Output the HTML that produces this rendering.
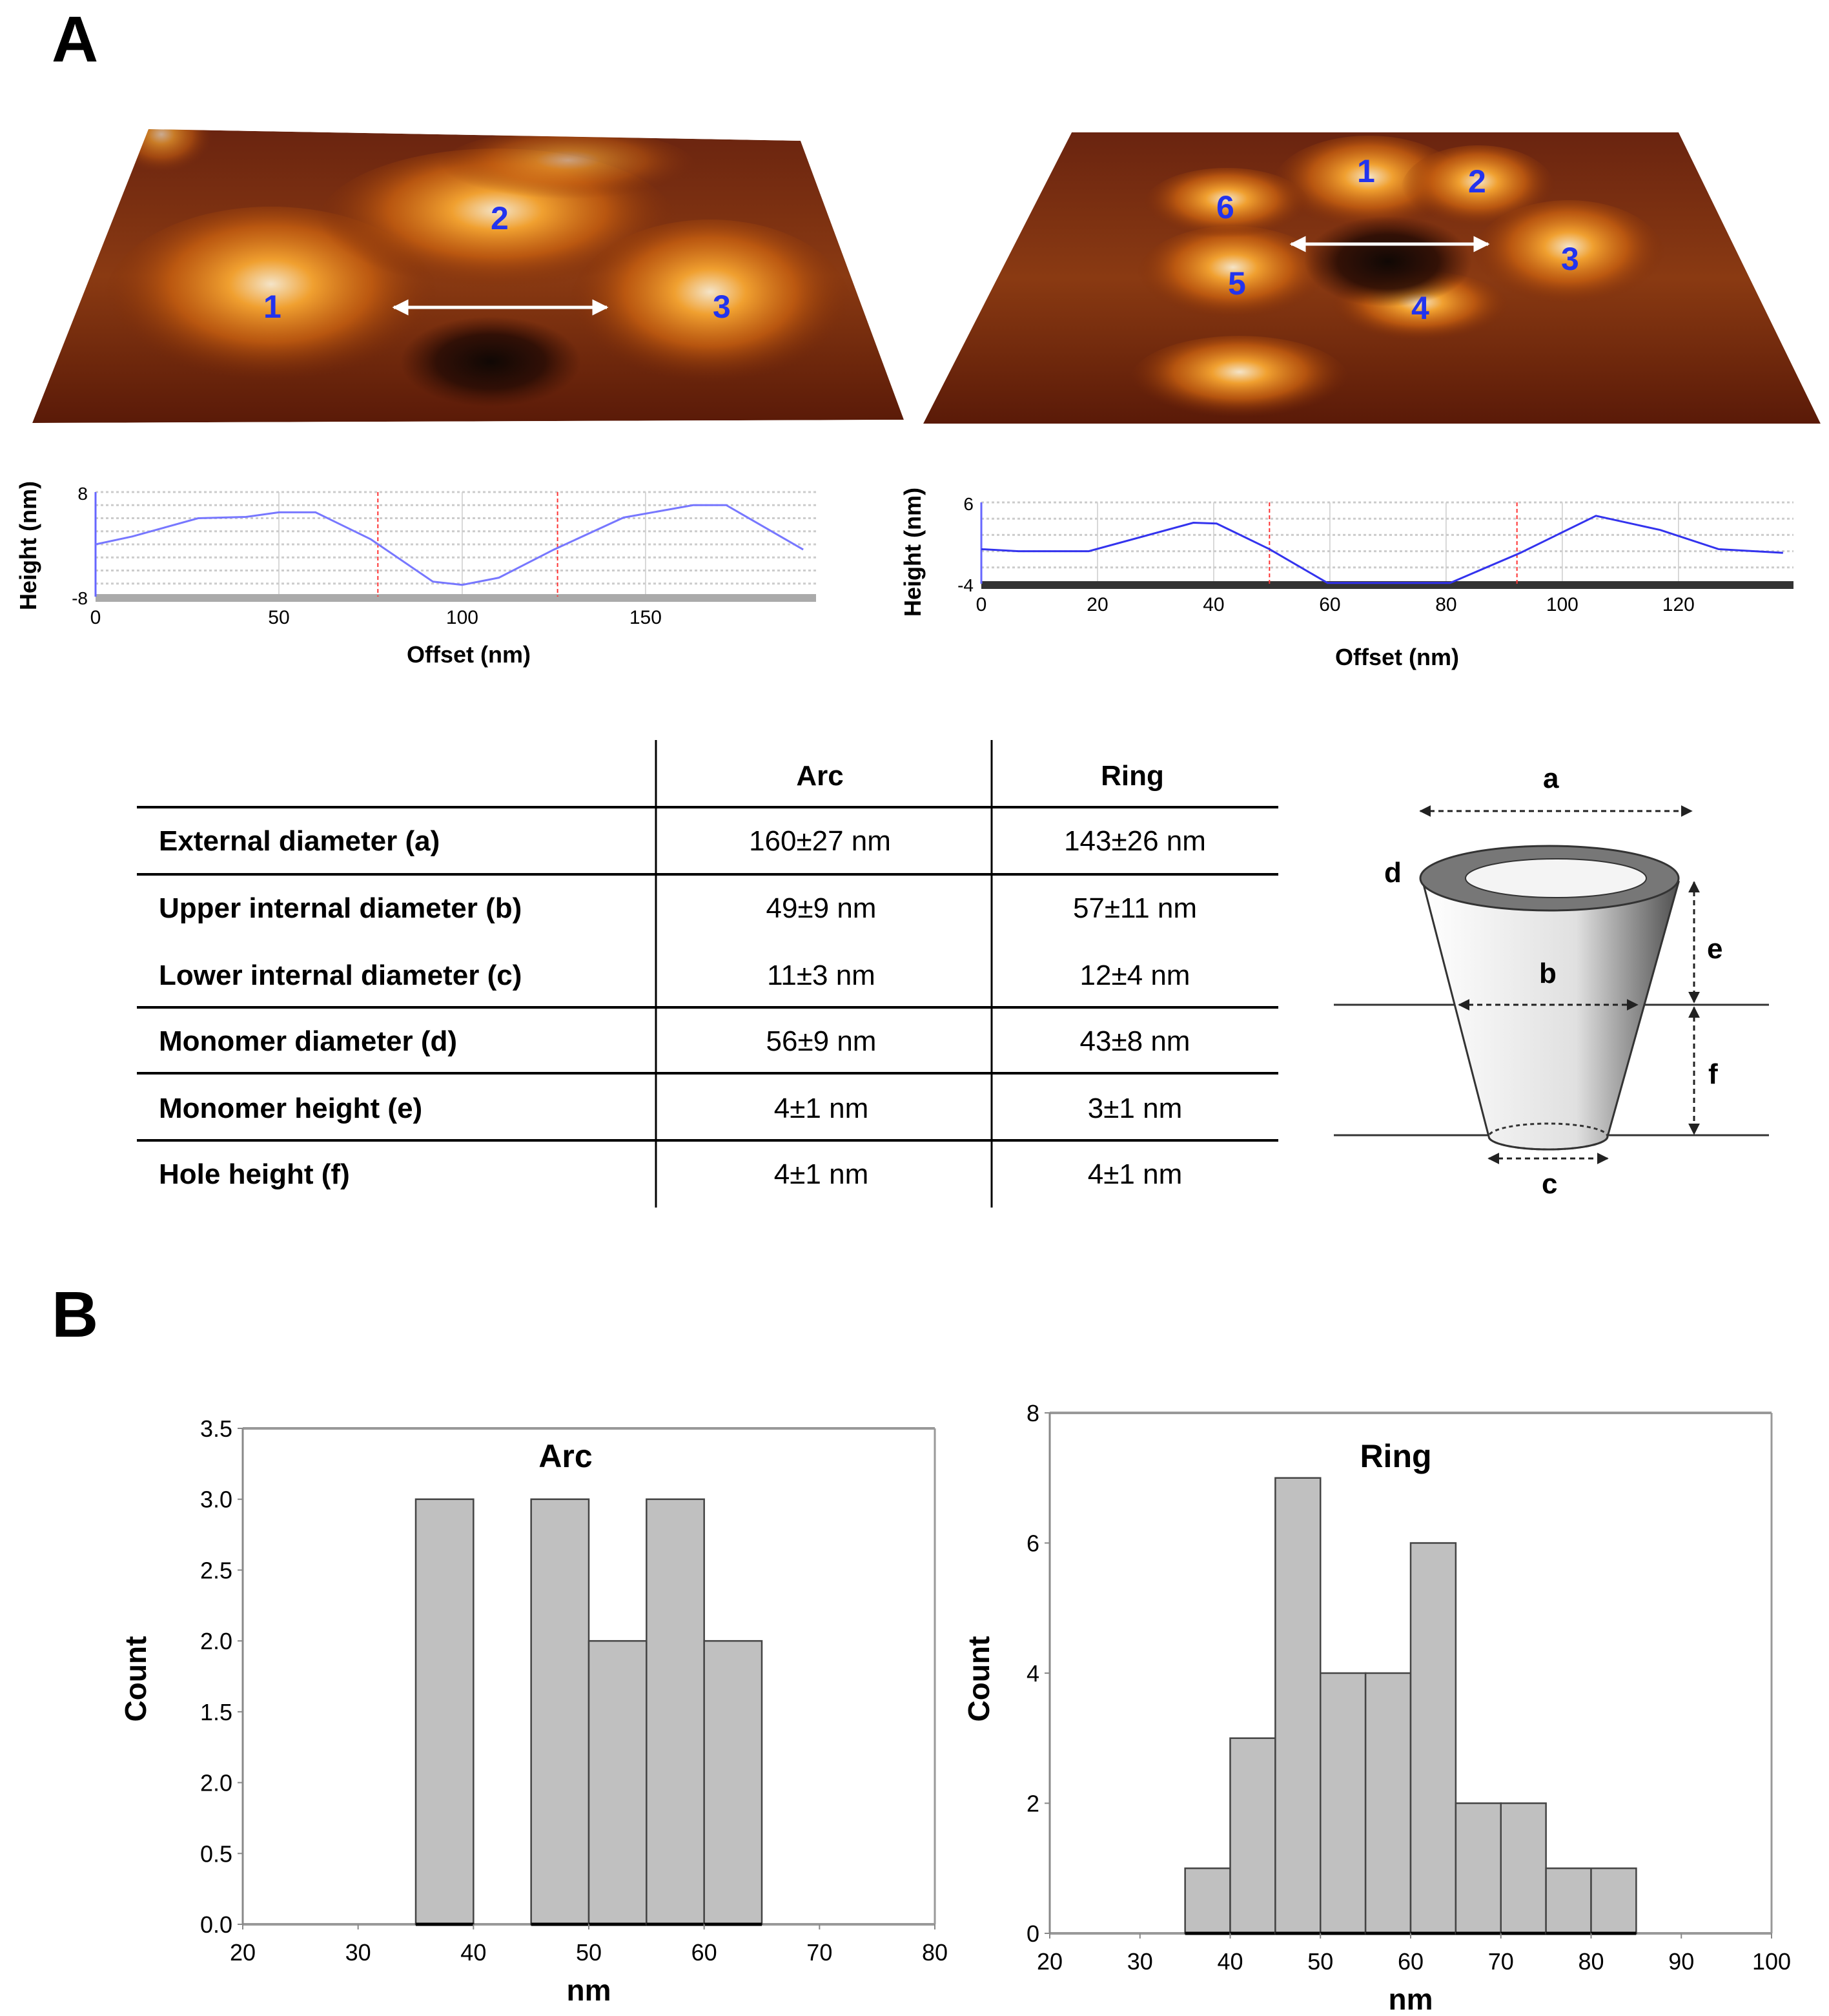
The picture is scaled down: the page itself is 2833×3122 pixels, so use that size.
<!DOCTYPE html>
<html><head><meta charset="utf-8"><style>
html,body{margin:0;padding:0;background:#fff;}
svg{display:block;font-family:"Liberation Sans",Arial,sans-serif;}
</style></head><body>
<svg id="fig" width="2833" height="3122" viewBox="0 0 2833 3122" xmlns="http://www.w3.org/2000/svg">
<defs>
<radialGradient id="bump" cx="50%" cy="40%" r="50%"><stop offset="0" stop-color="#f4e4c8"/><stop offset="0.25" stop-color="#f0a030"/><stop offset="0.6" stop-color="#c86010" stop-opacity="0.8"/><stop offset="1" stop-color="#7a2a08" stop-opacity="0"/></radialGradient>
<radialGradient id="hole" cx="50%" cy="50%" r="50%"><stop offset="0" stop-color="#100805"/><stop offset="0.6" stop-color="#2a0d05" stop-opacity="0.9"/><stop offset="1" stop-color="#3a1005" stop-opacity="0"/></radialGradient>
<linearGradient id="base" x1="0" y1="0" x2="0" y2="1"><stop offset="0" stop-color="#6a2410"/><stop offset="0.5" stop-color="#8a3a12"/><stop offset="1" stop-color="#5a1a08"/></linearGradient>
<linearGradient id="cone" x1="0" y1="0" x2="1" y2="0"><stop offset="0" stop-color="#ffffff"/><stop offset="0.6" stop-color="#e0e0e0"/><stop offset="1" stop-color="#505050"/></linearGradient>
<clipPath id="clipL"><polygon points="230,200 1240,218 1400,650 50,655"/></clipPath>
<clipPath id="clipR"><polygon points="1660,205 2600,205 2820,656 1430,656"/></clipPath>
<marker id="ah" viewBox="0 0 10 10" refX="9" refY="5" markerWidth="6" markerHeight="6" orient="auto-start-reverse"><path d="M0,0L10,5L0,10z" fill="#222"/></marker>
<marker id="wh" viewBox="0 0 10 10" refX="9" refY="5" markerWidth="5" markerHeight="5" orient="auto-start-reverse"><path d="M0,0L10,5L0,10z" fill="#fff"/></marker>
</defs>

<text x="80" y="95" font-size="100" font-weight="bold">A</text>
<text x="80" y="2070" font-size="100" font-weight="bold">B</text>

<g>
<g clip-path="url(#clipL)">
<polygon points="230,200 1240,218 1400,650 50,655" fill="url(#base)"/>
<ellipse cx="250" cy="220" rx="80" ry="60" fill="url(#bump)" opacity="0.7"/>
<ellipse cx="420" cy="470" rx="260" ry="150" fill="url(#bump)"/>
<ellipse cx="770" cy="350" rx="280" ry="120" fill="url(#bump)"/>
<ellipse cx="1100" cy="480" rx="220" ry="140" fill="url(#bump)"/>
<ellipse cx="880" cy="260" rx="200" ry="60" fill="url(#bump)" opacity="0.6"/>
<ellipse cx="760" cy="560" rx="140" ry="70" fill="url(#hole)"/>
</g>
<line x1="610" y1="476" x2="940" y2="476" stroke="#fff" stroke-width="5" marker-start="url(#wh)" marker-end="url(#wh)"/>
<g font-size="50" font-weight="bold" fill="#2233ee"><text x="408" y="492">1</text><text x="760" y="355">2</text><text x="1104" y="492">3</text></g>
</g>
<g>
<g clip-path="url(#clipR)">
<polygon points="1660,205 2600,205 2820,656 1430,656" fill="url(#base)"/>
<ellipse cx="2120" cy="290" rx="150" ry="80" fill="url(#bump)"/>
<ellipse cx="2290" cy="295" rx="120" ry="70" fill="url(#bump)"/>
<ellipse cx="2430" cy="400" rx="150" ry="90" fill="url(#bump)"/>
<ellipse cx="2200" cy="480" rx="140" ry="60" fill="url(#bump)"/>
<ellipse cx="1910" cy="430" rx="150" ry="80" fill="url(#bump)"/>
<ellipse cx="1900" cy="320" rx="130" ry="60" fill="url(#bump)"/>
<ellipse cx="1920" cy="590" rx="170" ry="70" fill="url(#bump)"/>
<ellipse cx="2150" cy="405" rx="130" ry="70" fill="url(#hole)"/>
</g>
<line x1="2000" y1="378" x2="2305" y2="378" stroke="#fff" stroke-width="5" marker-start="url(#wh)" marker-end="url(#wh)"/>
<g font-size="50" font-weight="bold" fill="#2233ee"><text x="2102" y="282">1</text><text x="2274" y="298">2</text><text x="2418" y="418">3</text><text x="2186" y="494">4</text><text x="1902" y="456">5</text><text x="1884" y="338">6</text></g>
</g>

<g id="prof1"></g>
<g id="prof2"></g>

<g font-size="44">
<line x1="1016" y1="1146" x2="1016" y2="1870" stroke="#000" stroke-width="3"/>
<line x1="1536" y1="1146" x2="1536" y2="1870" stroke="#000" stroke-width="3"/>
<g stroke="#000" stroke-width="4">
<line x1="212" y1="1250" x2="1980" y2="1250"/><line x1="212" y1="1354" x2="1980" y2="1354"/><line x1="212" y1="1560" x2="1980" y2="1560"/><line x1="212" y1="1662" x2="1980" y2="1662"/><line x1="212" y1="1766" x2="1980" y2="1766"/>
</g>
<g font-weight="bold" text-anchor="middle"><text x="1270" y="1216">Arc</text><text x="1754" y="1216">Ring</text></g>
<g font-weight="bold">
<text x="246" y="1317">External diameter (a)</text>
<text x="246" y="1421">Upper internal diameter (b)</text>
<text x="246" y="1525">Lower internal diameter (c)</text>
<text x="246" y="1627">Monomer diameter (d)</text>
<text x="246" y="1731">Monomer height (e)</text>
<text x="246" y="1833">Hole height (f)</text>
</g>
<g text-anchor="middle">
<text x="1270" y="1317">160±27 nm</text><text x="1758" y="1317">143±26 nm</text>
<text x="1272" y="1421">49±9 nm</text><text x="1758" y="1421">57±11 nm</text>
<text x="1272" y="1525">11±3 nm</text><text x="1758" y="1525">12±4 nm</text>
<text x="1272" y="1627">56±9 nm</text><text x="1758" y="1627">43±8 nm</text>
<text x="1272" y="1731">4±1 nm</text><text x="1758" y="1731">3±1 nm</text>
<text x="1272" y="1833">4±1 nm</text><text x="1758" y="1833">4±1 nm</text>
</g>
</g>

<g font-size="44" font-weight="bold">
<line x1="2066" y1="1556" x2="2740" y2="1556" stroke="#333" stroke-width="3"/>
<line x1="2066" y1="1758" x2="2740" y2="1758" stroke="#333" stroke-width="3"/>
<path d="M2204,1366 L2306,1760 A92,20 0 0 0 2490,1760 L2600,1366 Z" fill="url(#cone)" stroke="#333" stroke-width="3"/>
<ellipse cx="2400" cy="1360" rx="200" ry="50" fill="#777" stroke="#333" stroke-width="3"/>
<ellipse cx="2410" cy="1360" rx="140" ry="30" fill="#f4f4f4" stroke="#333" stroke-width="2"/>
<ellipse cx="2398" cy="1760" rx="92" ry="20" fill="none" stroke="#333" stroke-width="3" stroke-dasharray="6,5"/>
<g stroke="#222" stroke-width="3" stroke-dasharray="8,6" fill="none">
<line x1="2200" y1="1256" x2="2620" y2="1256" marker-start="url(#ah)" marker-end="url(#ah)"/>
<line x1="2260" y1="1556" x2="2536" y2="1556" marker-start="url(#ah)" marker-end="url(#ah)"/>
<line x1="2306" y1="1794" x2="2490" y2="1794" marker-start="url(#ah)" marker-end="url(#ah)"/>
<line x1="2624" y1="1366" x2="2624" y2="1552" marker-start="url(#ah)" marker-end="url(#ah)"/>
<line x1="2624" y1="1560" x2="2624" y2="1756" marker-start="url(#ah)" marker-end="url(#ah)"/>
</g>
<text x="2390" y="1220">a</text><text x="2384" y="1522">b</text><text x="2388" y="1848">c</text><text x="2144" y="1366">d</text><text x="2644" y="1484">e</text><text x="2646" y="1678">f</text>
</g>

<g id="histArc"></g>
<g id="histRing"></g>
</svg>
<script>
const NS='http://www.w3.org/2000/svg';
const prof1X=[0,10,28,41,50,60,75,92,100,110,125,144,163,172,193];
const prof1Y=[0,1.2,4,4.2,4.9,4.9,0.8,-5.7,-6.2,-5.1,-0.8,4.1,6.0,6.0,-0.8];
const prof1Cursors=[77,126];
const prof1XTicks=[0,50,100,150];
const prof2X=[0,6.4,18.5,36.5,40.5,49.6,59.6,80.7,92.8,105.8,116.9,126.9,138];
const prof2Y=[0.25,0,0,3.5,3.4,0.25,-3.9,-3.9,-0.2,4.35,2.6,0.25,-0.2];
const prof2Cursors=[49.6,92.2];
const prof2XTicks=[0,20,40,60,80,100,120];
const arcBins=[35,40,45,50,55,60];
const arcCounts=[3,0,3,2,3,2];
const arcYTicks=['0.0','0.5','2.0','1.5','2.0','2.5','3.0','3.5'];
const arcXTicks=[20,30,40,50,60,70,80];
const ringBins=[35,40,45,50,55,60,65,70,75,80];
const ringCounts=[1,3,7,4,4,6,2,2,1,1];
const ringYTicks=['0','2','4','6','8'];
const ringXTicks=[20,30,40,50,60,70,80,90,100];

function mk(parent,tag,attrs,text){const e=document.createElementNS(NS,tag);for(const k in attrs)e.setAttribute(k,attrs[k]);if(text!==undefined)e.textContent=text;parent.appendChild(e);return e;}

function profile(g,xs,ys,cur,ticks,o){
  const sx=v=>o.x0+(v-o.xmin)*(o.x1-o.x0)/(o.xmax-o.xmin);
  const sy=v=>o.y0+(v-o.ymin)*(o.y1-o.y0)/(o.ymax-o.ymin);
  for(const gv of o.grid){mk(g,'line',{x1:o.x0,x2:o.x1,y1:sy(gv),y2:sy(gv),stroke:'#ccc','stroke-width':3,'stroke-dasharray':'4,4'});}
  for(const t of ticks){if(t>0)mk(g,'line',{x1:sx(t),x2:sx(t),y1:sy(o.ymax),y2:sy(o.ymin),stroke:'#ccc','stroke-width':1.5});}
  mk(g,'rect',{x:o.x0,y:sy(o.ymin)-4,width:o.x1-o.x0,height:12,fill:o.band});
  mk(g,'line',{x1:o.x0,x2:o.x0,y1:sy(o.ymax),y2:sy(o.ymin),stroke:'#66f','stroke-width':3});
  for(const c of cur){mk(g,'line',{x1:sx(c),x2:sx(c),y1:sy(o.ymax),y2:sy(o.ymin),stroke:'#f33','stroke-width':2,'stroke-dasharray':'6,4'});}
  const line=mk(g,'polyline',{points:xs.map((x,i)=>sx(x)+','+sy(ys[i])).join(' '),fill:'none',stroke:o.col,'stroke-width':3});
  
  
  for(const t of ticks){const tx=mk(g,'text',{x:sx(t),y:o.tickY,'font-size':30,'text-anchor':'middle'},t);
    
    }
  mk(g,'text',{x:o.x0-12,y:sy(o.ymax)+12,'font-size':28,'text-anchor':'end'},o.ymax);
  mk(g,'text',{x:o.x0-12,y:sy(o.ymin)+12,'font-size':28,'text-anchor':'end'},o.ymin);
  const yt=mk(g,'text',{transform:`translate(${o.ylx},${o.yly}) rotate(-90)`,'font-size':36,'font-weight':'bold','text-anchor':'middle'},'Height (nm)');
  
  
  const xt=mk(g,'text',{x:o.xlx,y:o.xly,'font-size':36,'font-weight':'bold','text-anchor':'middle'},'Offset (nm)');
  
  
}
profile(document.getElementById('prof1'),prof1X,prof1Y,prof1Cursors,prof1XTicks,
 {x0:148,x1:1264,xmin:0,xmax:196.5,y0:924,y1:762,ymin:-8,ymax:8,grid:[8,6,4,2,0,-2,-4,-6],band:'#aaa',col:'#7777ff',tickY:966,ylx:56,yly:845,xlx:726,xly:1026});
profile(document.getElementById('prof2'),prof2X,prof2Y,prof2Cursors,prof2XTicks,
 {x0:1520,x1:2778,xmin:0,xmax:139.8,y0:904,y1:778,ymin:-4,ymax:6,grid:[6,4,2,0,-2],band:'#333',col:'#3333ee',tickY:946,ylx:1426,yly:855,xlx:2164,xly:1030});

function hist(g,bins,counts,yt,xt,o){
  const sx=v=>o.x0+(v-o.xmin)*(o.x1-o.x0)/(o.xmax-o.xmin);
  const sy=v=>o.y0-v*(o.y0-o.y1)/o.ymax;
  mk(g,'line',{x1:o.x0,x2:o.x1,y1:o.y1,y2:o.y1,stroke:'#999','stroke-width':4});
  mk(g,'line',{x1:o.x1,x2:o.x1,y1:o.y1,y2:o.y0,stroke:'#999','stroke-width':3});
  mk(g,'line',{x1:o.x0,x2:o.x1,y1:o.y0,y2:o.y0,stroke:'#999','stroke-width':4});
  mk(g,'line',{x1:o.x0,x2:o.x0,y1:o.y1,y2:o.y0,stroke:'#888','stroke-width':3});
  bins.forEach((b,i)=>{if(!counts[i])return;
    const r=mk(g,'rect',{x:sx(b),y:sy(counts[i]),width:sx(b+5)-sx(b),height:o.y0-sy(counts[i]),fill:'#c0c0c0',stroke:'#444','stroke-width':2.5});
    
    
    mk(g,'line',{x1:sx(b),x2:sx(b+5),y1:o.y0,y2:o.y0,stroke:'#000','stroke-width':5});});
  yt.forEach((t,i)=>{const v=i*o.ystep;
    mk(g,'line',{x1:o.x0-8,x2:o.x0,y1:sy(v),y2:sy(v),stroke:'#888','stroke-width':2});
    const tx=mk(g,'text',{x:o.x0-16,y:sy(v)+13,'font-size':36,'text-anchor':'end'},t);
    
    });
  xt.forEach(t=>{mk(g,'line',{x1:sx(t),x2:sx(t),y1:o.y0,y2:o.y0+8,stroke:'#888','stroke-width':2});
    const tx=mk(g,'text',{x:sx(t),y:o.y0+56,'font-size':36,'text-anchor':'middle'},t);
    
    });
  const ti=mk(g,'text',{x:o.tx,y:o.ty,'font-size':50,'font-weight':'bold','text-anchor':'middle'},o.title);
  
  
  const c=mk(g,'text',{transform:`translate(${o.cx},${o.cy}) rotate(-90)`,'font-size':46,'font-weight':'bold','text-anchor':'middle'},'Count');
  
  
  const n=mk(g,'text',{x:(o.x0+o.x1)/2,y:o.y0+118,'font-size':46,'font-weight':'bold','text-anchor':'middle'},'nm');
  
  
}
hist(document.getElementById('histArc'),arcBins,arcCounts,arcYTicks,arcXTicks,
 {x0:376,x1:1448,xmin:20,xmax:80,y0:2980,y1:2212,ymax:3.5,ystep:0.5,title:'Arc',tx:876,ty:2272,cx:226,cy:2600});
hist(document.getElementById('histRing'),ringBins,ringCounts,ringYTicks,ringXTicks,
 {x0:1626,x1:2744,xmin:20,xmax:100,y0:2994,y1:2188,ymax:8,ystep:2,title:'Ring',tx:2162,ty:2272,cx:1532,cy:2600});
</script>
</body></html>
